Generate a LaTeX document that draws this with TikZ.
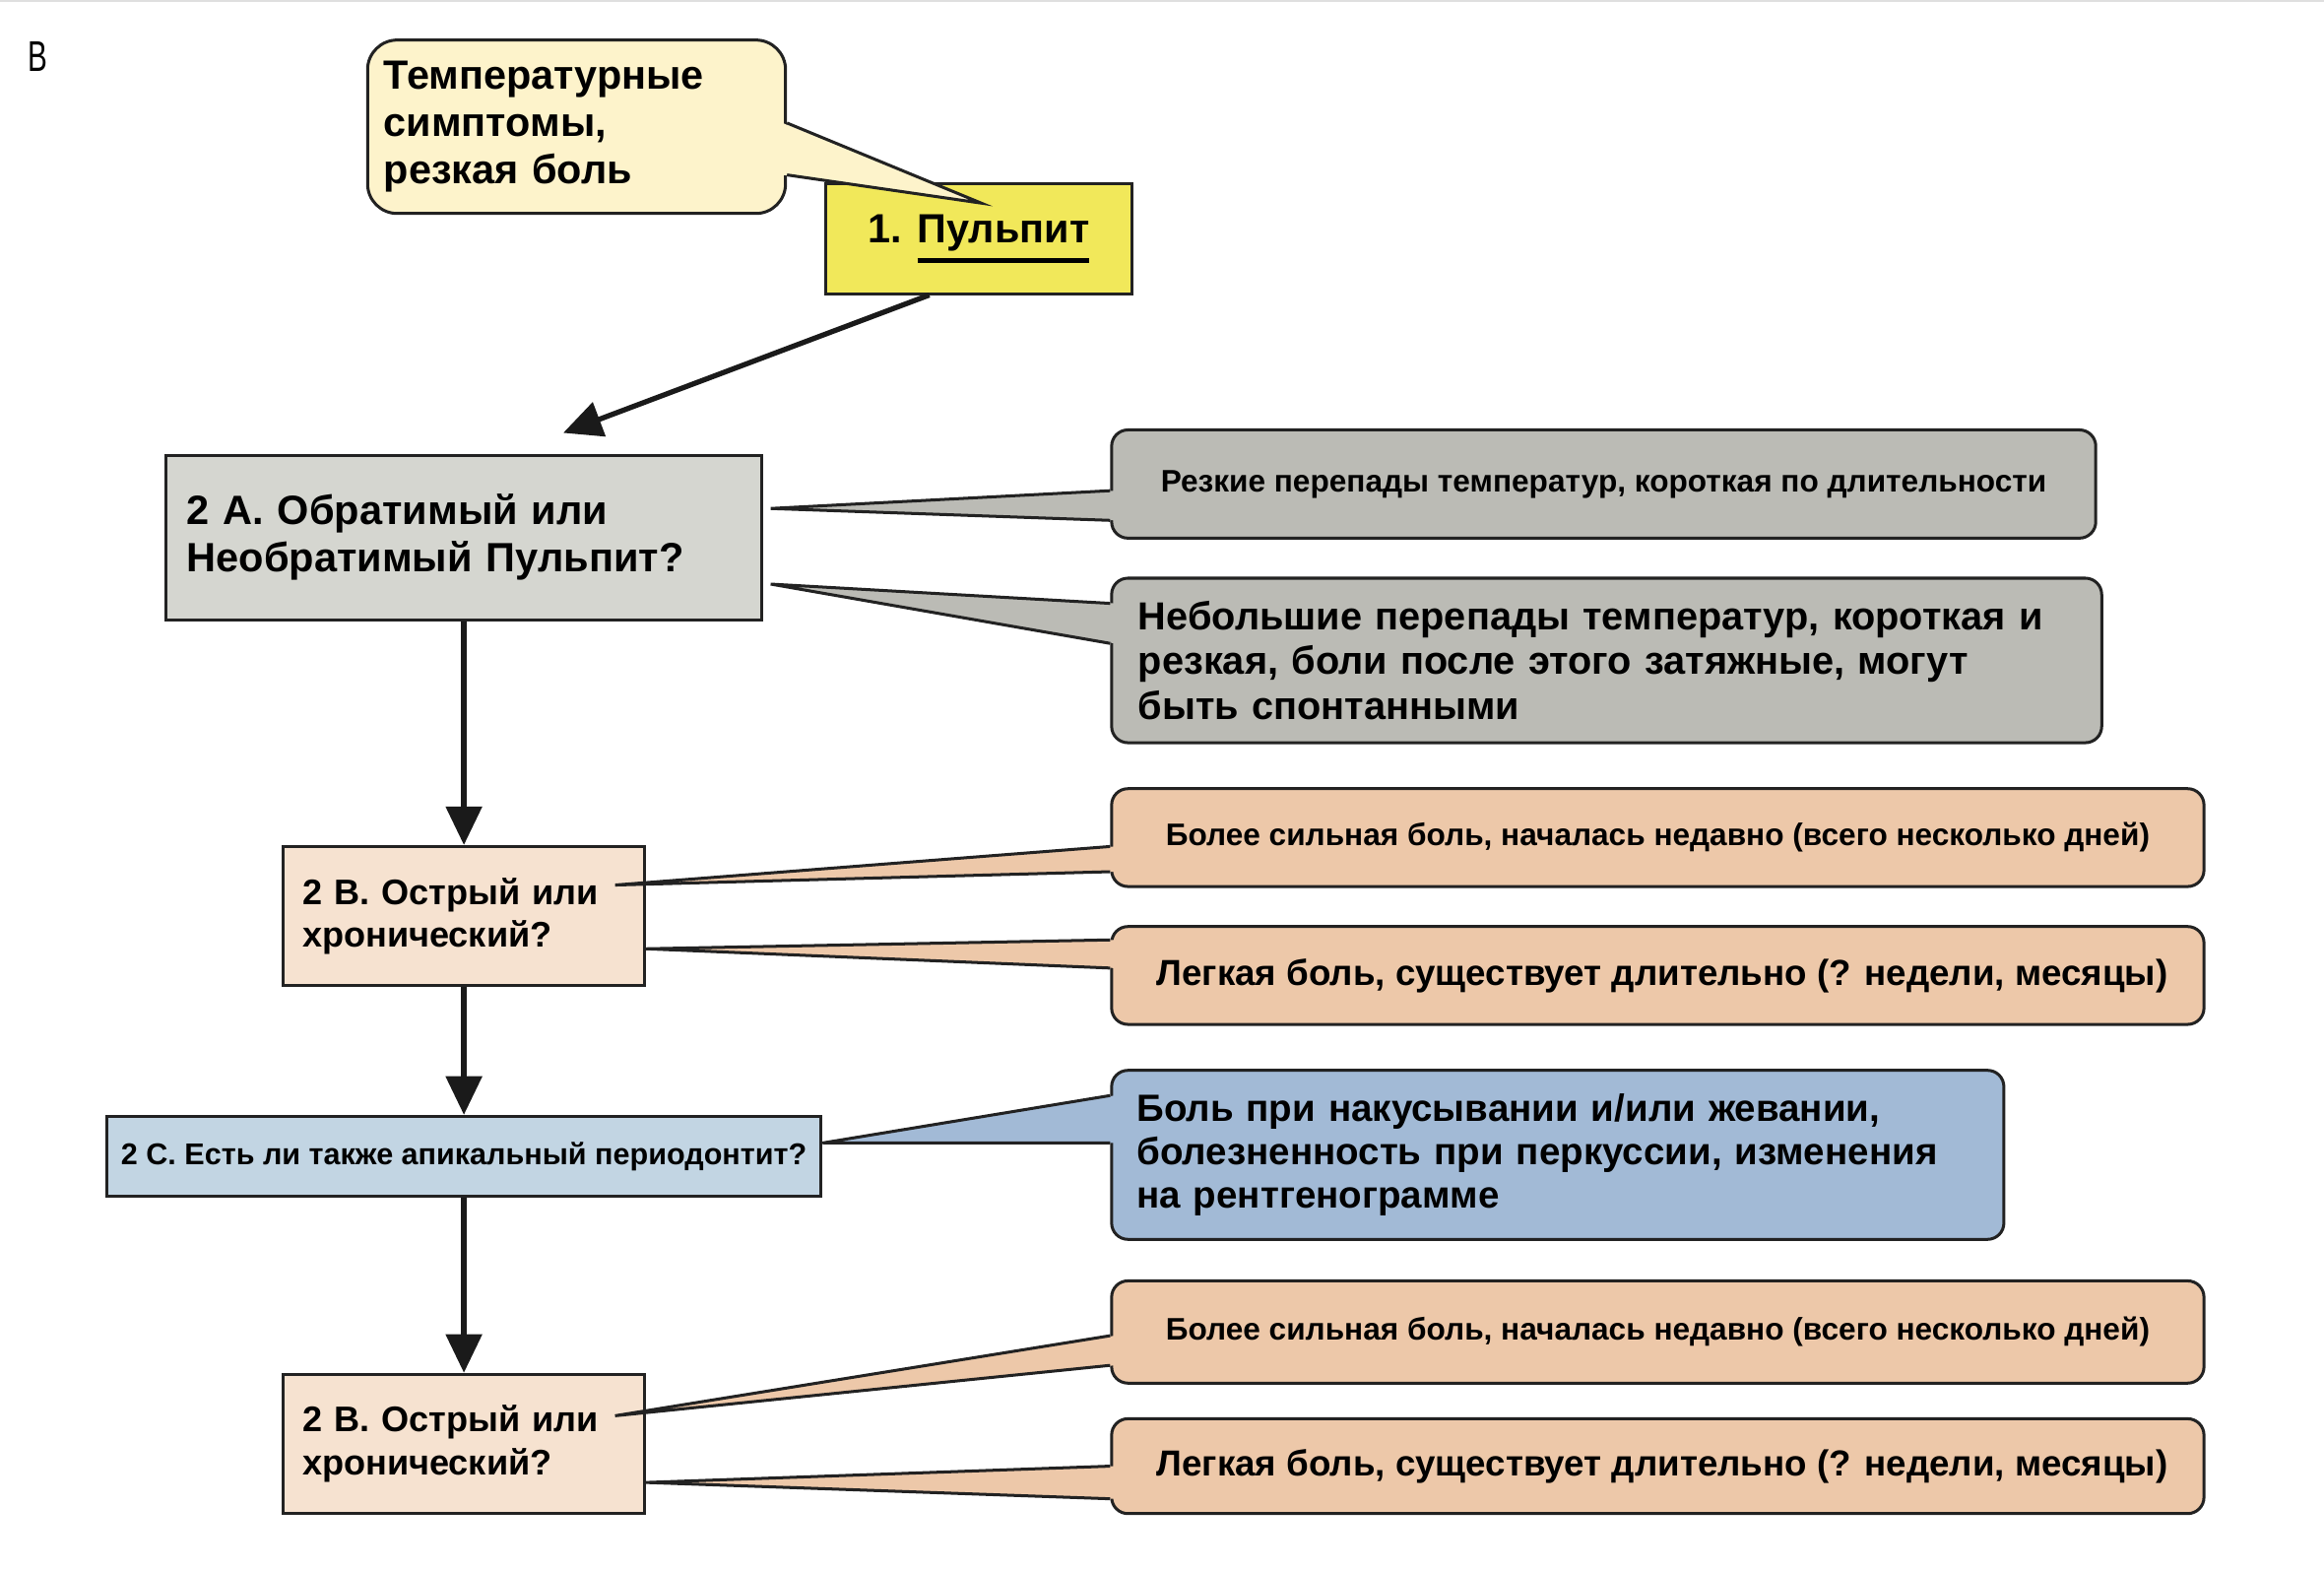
\documentclass[tikz,border=0pt]{standalone}
\usepackage{fontspec}
\setmainfont{Liberation Sans}
\usepackage{graphicx}
\usetikzlibrary{arrows.meta,calc}
\definecolor{linec}{HTML}{222222}
\definecolor{arrc}{HTML}{1A1A1A}
\definecolor{tempc}{HTML}{FDF3CB}
\definecolor{yelc}{HTML}{F1E85A}
\definecolor{gbox}{HTML}{D5D6D0}
\definecolor{gcall}{HTML}{BBBBB5}
\definecolor{pbox}{HTML}{F6E2D0}
\definecolor{pcall}{HTML}{EDC8A9}
\definecolor{bbox}{HTML}{C2D5E3}
\definecolor{bcall}{HTML}{A2BAD6}
\newcommand{\mythickul}[1]{\setbox0\hbox{#1}\rlap{\rule[-14pt]{\wd0}{3.5pt}}\box0}
\newcommand{\calltail}[6]{%
  \fill[#5] ($(#1 |- 0,#2)+(#6,0)$) -- (#4) -- ($(#1 |- 0,#3)+(#6,0)$) -- cycle;
  \draw[tailline] (#1 |- 0,#2) -- (#4) -- (#1 |- 0,#3);
}
\begin{document}
\begin{tikzpicture}[x=1pt,y=-1pt,
  flow/.style={draw=linec, line width=2pt, inner ysep=0pt, font=\bfseries, align=left},
  call/.style={draw=linec, line width=2pt, rounded corners=11pt, inner ysep=0pt},
  tailline/.style={draw=linec, line width=2pt, line join=miter},
  arr/.style={draw=arrc, line width=3.5pt, -{Triangle[length=26pt,width=24pt]}},
]
\useasboundingbox (0,0) rectangle (1568,1059.7);
\draw[gray!25, line width=1pt] (0,0.5) -- (1568,0.5);

\node[anchor=base west, inner sep=0pt, font=\fontsize{29}{29}\selectfont] (lab) at (19,48) {\scalebox{0.68}[1]{B}};

% flow boxes
\node[flow, fill=yelc, minimum width=207pt, minimum height=74pt, align=center,
      font=\bfseries\fontsize{27.5}{30}\selectfont] (p1) at (660.5,161) {1. \mythickul{Пульпит}};
\node[flow, fill=gbox, text width=374pt, inner xsep=14pt, minimum height=111pt,
      font=\bfseries\fontsize{27.6}{32}\selectfont] (q2a) at (313,362.5) {2 A. Обратимый или\\Необратимый Пульпит?};
\node[flow, fill=pbox, text width=218pt, inner xsep=13pt, minimum height=94pt,
      font=\bfseries\fontsize{24}{29}\selectfont] (q2b1) at (313,618) {2 B. Острый или\\хронический?};
\node[flow, fill=bbox, minimum width=482pt, minimum height=54pt, align=center,
      font=\bfseries\fontsize{20.3}{22}\selectfont] (q2c) at (313,780) {2 C. Есть ли также апикальный периодонтит?};
\node[flow, fill=pbox, text width=218pt, inner xsep=13pt, minimum height=94pt,
      font=\bfseries\fontsize{24}{29}\selectfont] (q2b2) at (313,974) {2 B. Острый или\\хронический?};

% callouts
\node[call, fill=tempc, rounded corners=20pt, text width=260pt, inner xsep=11pt, minimum height=117pt, align=left,
      font=\bfseries\fontsize{27.5}{32}\selectfont] (temp) at (389,85.5) {Температурные\\симптомы,\\резкая боль};
\node[call, fill=gcall, minimum width=664pt, minimum height=73pt,
      font=\bfseries\fontsize{21}{24}\selectfont] (c1) at (1082,326.5) {Резкие перепады температур, короткая по длительности};
\node[call, fill=gcall, text width=632pt, inner xsep=18pt, minimum height=111pt, align=left,
      font=\bfseries\fontsize{26.4}{30}\selectfont] (c2) at (1084,445.5) {Небольшие перепады температур, короткая и\\резкая, боли после этого затяжные, могут\\быть спонтанными};
\node[call, fill=pcall, minimum width=737pt, minimum height=66pt,
      font=\bfseries\fontsize{21}{24}\selectfont] (c3) at (1118.5,565) {Более сильная боль, началась недавно (всего несколько дней)};
\node[call, fill=pcall, minimum width=737pt, minimum height=66pt,
      font=\bfseries\fontsize{24.4}{28}\selectfont] (c4) at (1118.5,658) {\hspace*{6pt}Легкая боль, существует длительно (? недели, месяцы)};
\node[call, fill=bcall, text width=568pt, inner xsep=17pt, minimum height=114pt, align=left,
      font=\bfseries\fontsize{25.6}{29.5}\selectfont] (c5) at (1051,779) {Боль при накусывании и/или жевании,\\болезненность при перкуссии, изменения\\на рентгенограмме};
\node[call, fill=pcall, minimum width=737pt, minimum height=69pt,
      font=\bfseries\fontsize{21}{24}\selectfont] (c6) at (1118.5,898.5) {Более сильная боль, началась недавно (всего несколько дней)};
\node[call, fill=pcall, minimum width=737pt, minimum height=64pt,
      font=\bfseries\fontsize{24.4}{28}\selectfont] (c7) at (1118.5,989) {\hspace*{6pt}Легкая боль, существует длительно (? недели, месяцы)};

% tail tips
\coordinate (t0) at (662,137);
\coordinate (t1) at (520,343);
\coordinate (t2) at (520,394);
\coordinate (t3) at (415,597);
\coordinate (t4) at (436,640);
\coordinate (t5) at (555,771);
\coordinate (t6) at (415,955);
\coordinate (t7) at (436,1000);

\calltail{temp.east}{83}{118}{t0}{tempc}{-3}
\calltail{c1.west}{331}{351}{t1}{gcall}{3}
\calltail{c2.west}{407}{434}{t2}{gcall}{3}
\calltail{c3.west}{571}{588}{t3}{pcall}{3}
\calltail{c4.west}{634}{653}{t4}{pcall}{3}
\calltail{c5.west}{739}{771}{t5}{bcall}{3}
\calltail{c6.west}{901}{921}{t6}{pcall}{3}
\calltail{c7.west}{989}{1011}{t7}{pcall}{3}

% arrows
\coordinate (a1) at (380,292);
\draw[arr] ([xshift=-33.5pt]p1.south) -- (a1);
\draw[arr] (q2a.south) -- (q2b1.north);
\draw[arr] (q2b1.south) -- (q2c.north);
\draw[arr] (q2c.south) -- (q2b2.north);
\end{tikzpicture}
\end{document}
